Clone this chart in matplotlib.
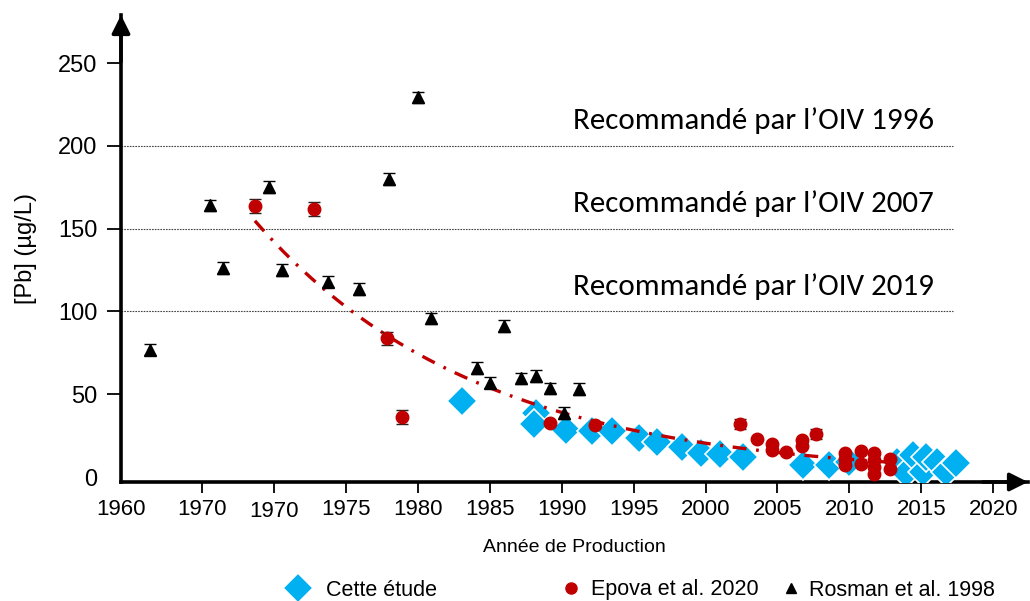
import numpy as np
import matplotlib
matplotlib.use("Agg")
import matplotlib.pyplot as plt
from matplotlib.lines import Line2D

plt.rcParams['lines.scale_dashes'] = False
plt.rcParams['font.family'] = ['Liberation Sans', 'DejaVu Sans']

# --- Cette étude ---
etude_years = [1983.1, 1988.2, 1988.1, 1990.3, 1992.1, 1993.5, 1995.4, 1996.6,
               1998.4, 1999.7, 2001.0, 2002.6, 2006.8, 2008.6, 2010.0,
               2013.3, 2013.9, 2014.4, 2015.1, 2015.3, 2016.1, 2016.7, 2017.4]
etude_pb = [46.1, 38.8, 31.8, 28.4, 28.0, 27.8, 23.4, 21.3,
            18.3, 14.3, 13.9, 12.3, 7.2, 7.2, 9.0,
            9.2, 2.4, 13.3, 3.2, 12.3, 9.2, 3.2, 8.3]

# --- Epova et al. 2020 ---
epova_years = [1968.7, 1972.8, 1977.9, 1978.9, 1989.2, 1992.3, 2002.4, 2003.6,
               2004.6, 2004.6, 2005.6, 2006.7, 2006.7, 2007.7, 2009.7, 2009.7,
               2009.7, 2010.8, 2010.8, 2011.7, 2011.7, 2011.7, 2011.7, 2012.8, 2012.8]
epova_pb = [163.6, 161.8, 83.7, 36.2, 32.4, 31.4, 31.8, 22.7,
            19.9, 16.3, 15.3, 22.3, 18.9, 26.0, 14.7, 10.9,
            7.2, 15.7, 7.7, 14.7, 10.3, 5.9, 1.6, 10.9, 4.6]
epova_err = [4, 4, 4, 4, 0, 0, 3, 0,
             0, 0, 0, 0, 0, 3, 0, 0,
             0, 0, 0, 0, 0, 0, 0, 0, 0]

# --- Rosman et al. 1998 ---
rosman_years = [1961.4, 1965.6, 1966.5, 1969.7, 1970.6, 1973.8, 1975.9, 1978.0, 1980.0,
                1980.9, 1984.1, 1985.0, 1986.0, 1987.2, 1988.2, 1989.2, 1990.2, 1991.2]
rosman_pb = [77.0, 164.0, 126.4, 175.0, 125.0, 118.0, 113.5, 180.0, 229.3,
             95.8, 66.0, 57.0, 91.2, 59.6, 61.0, 53.5, 38.8, 53.0]
rosman_err = [3.5] * len(rosman_years)

# OIV recommended limits
oiv_limits = [200, 150, 100]
oiv_labels = ["Recommandé par l’OIV 1996",
              "Recommandé par l’OIV 2007",
              "Recommandé par l’OIV 2019"]

xtick_labels = ["1960", "1970", "1970", "1975", "1980", "1985", "1990",
                "1995", "2000", "2005", "2010", "2015", "2020"]
ytick_values = [0, 50, 100, 150, 200, 250]

BLUE = '#00B0F0'
RED = '#C00000'

W, H = 1030, 601
fig = plt.figure(figsize=(W / 100, H / 100), dpi=100)
ax = fig.add_axes([121 / W, 1 - 482 / H, (1028 - 121) / W, (482 - 15) / H])
x0, x1 = 1959.4, 2022.4
ax.set_xlim(x0, x1)
ax.set_ylim(-3, 279)

for s in ['top', 'right']:
    ax.spines[s].set_visible(False)
for s in ['left', 'bottom']:
    ax.spines[s].set_linewidth(2.6)

# arrow heads on both axes
arrow_kw = dict(arrowstyle='-|>,head_length=0.5,head_width=0.25', color='black',
                lw=2.6, shrinkA=0, shrinkB=0, mutation_scale=22)
ax.annotate('', xy=(0, 1), xytext=(0, 0.9), xycoords='axes fraction',
            arrowprops=arrow_kw, annotation_clip=False)
ax.annotate('', xy=(1, 0), xytext=(0.95, 0), xycoords='axes fraction',
            arrowprops=arrow_kw, annotation_clip=False)

# recommended limits
for lim, lab in zip(oiv_limits, oiv_labels):
    ax.plot([x0, 2017.2], [lim, lim], color='#444444', lw=0.8,
            linestyle=(0, (1.2, 0.8)), zorder=1)
    ax.text(1990.8, lim + 15, lab, ha='left', va='center', fontsize=22.3,
            family=['Carlito', 'Lato', 'DejaVu Sans'], color='black')

# Cette étude
ax.plot(etude_years, etude_pb, linestyle='none', marker='D', markersize=15,
        markerfacecolor=BLUE, markeredgecolor='white', markeredgewidth=1.2, zorder=3)

# exponential trend on Epova data
ey = np.array(epova_years)
ev = np.array(epova_pb)
slope, intercept = np.polyfit(ey, np.log(ev), 1)
tx = np.linspace(ey.min(), ey.max(), 200)
ax.plot(tx, np.exp(intercept + slope * tx), color=RED, lw=2.4,
        dashes=(10, 7, 2, 7), solid_capstyle='butt', dash_capstyle='butt', zorder=3.5)

# Epova et al. 2020
eerr = np.array(epova_err, dtype=float)
m = eerr > 0
ax.errorbar(ey[m], ev[m], yerr=eerr[m], fmt='none', ecolor='#222222',
            elinewidth=1, capsize=4, capthick=1, zorder=4)
ax.plot(ey, ev, linestyle='none', marker='o', markersize=9,
        markerfacecolor=RED, markeredgecolor=RED, zorder=4.5)

# Rosman et al. 1998
ax.errorbar(rosman_years, rosman_pb, yerr=rosman_err, fmt='none', ecolor='black',
            elinewidth=1, capsize=4, capthick=1, zorder=5)
ax.plot(rosman_years, rosman_pb, linestyle='none', marker='^', markersize=8,
        markerfacecolor='black', markeredgecolor='black', zorder=5.5)

# ticks
ax.set_yticks(ytick_values)
ax.set_yticklabels([str(v) for v in ytick_values])
ax.tick_params(axis='y', length=10, width=1.3, pad=7, labelsize=17)
ax.yaxis.get_major_ticks()[0].tick1line.set_visible(False)

xt = [x0] + list(range(1965, 2021, 5))
ax.set_xticks(xt)
ax.set_xticklabels(xtick_labels)
ax.tick_params(axis='x', length=8, width=1.3, pad=4, labelsize=16)
ax.xaxis.get_major_ticks()[0].tick1line.set_visible(False)
ax.xaxis.get_major_ticks()[2].set_pad(6)

ax.set_ylabel('[Pb] (µg/L)', fontsize=17, labelpad=15)
ax.set_xlabel('Année de Production', fontsize=14, labelpad=12)

# legend entries
entries = [
    (Line2D([], [], linestyle='none', marker='D', markersize=15, markerfacecolor=BLUE,
            markeredgecolor='white', markeredgewidth=1.2), 'Cette étude', 283, 1.4, 0.6),
    (Line2D([], [], linestyle='none', marker='o', markersize=8, markerfacecolor=RED,
            markeredgecolor=RED), 'Epova et al. 2020', 563, 0.7, 0.6),
    (Line2D([], [], linestyle='none', marker='^', markersize=7, markerfacecolor='black',
            markeredgecolor='black'), 'Rosman et al. 1998', 783, 0.7, 0.5),
]
for handle, label, px, hl, hp in entries:
    fig.legend([handle], [label], loc='center left', bbox_to_anchor=(px / W, 11 / H),
               frameon=False, borderpad=0, borderaxespad=0, handlelength=hl,
               handletextpad=hp, fontsize=15.5)

fig.savefig('out.png', dpi=100)
